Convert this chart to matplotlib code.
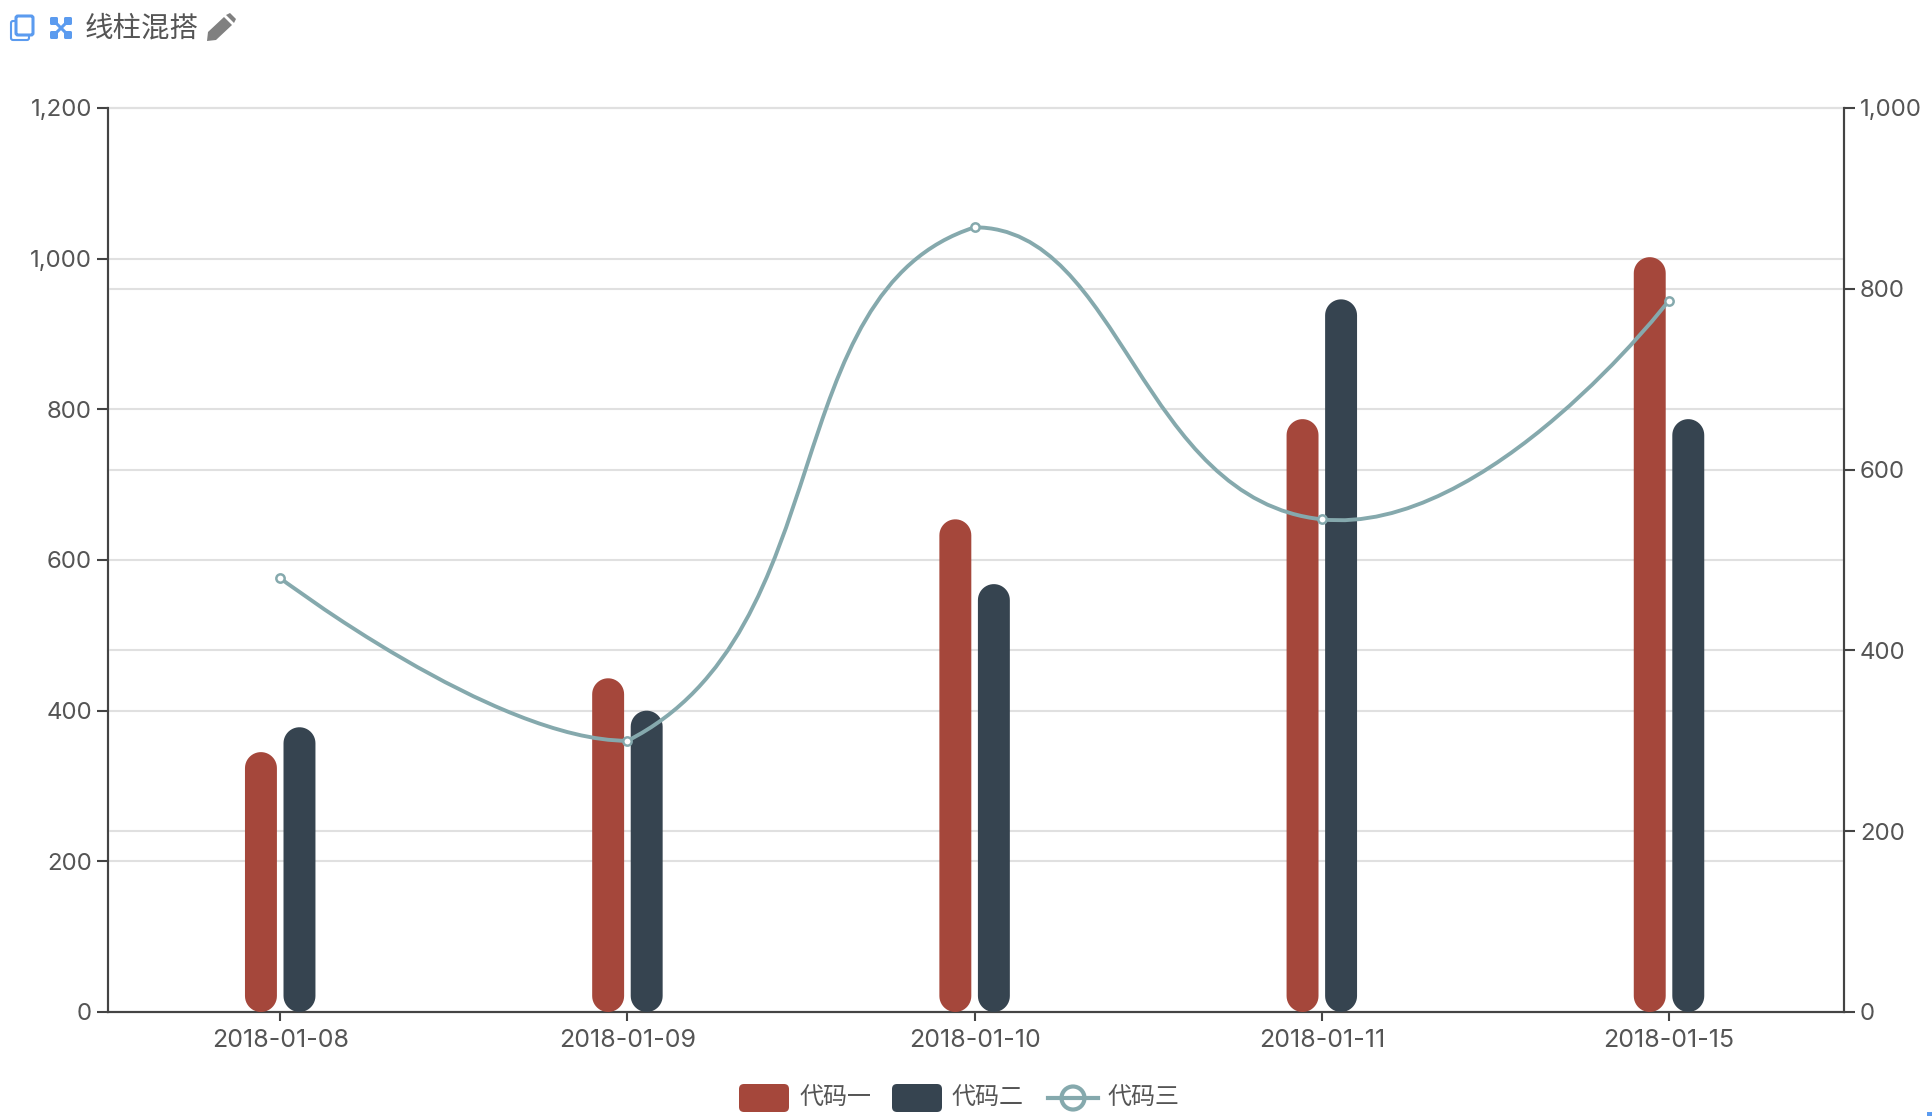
"""Mixed bar and smooth line chart with a secondary axis"""

import matplotlib
matplotlib.use('Agg')
import matplotlib.pyplot as plt
import numpy as np
from matplotlib.patches import Circle, FancyBboxPatch, PathPatch, Polygon, Rectangle
from matplotlib.path import Path
from matplotlib.lines import Line2D
from matplotlib.ticker import FuncFormatter
from matplotlib.transforms import IdentityTransform

plt.rcParams['font.family'] = ['Inter', 'Noto Sans CJK SC', 'DejaVu Sans']

# Data
dates = ['2018-01-08', '2018-01-09', '2018-01-10', '2018-01-11', '2018-01-15']
code_one = [345, 443, 654, 787, 1002]
code_two = [378, 400, 568, 946, 787]
code_three = [480, 300, 868, 545, 787]
names = ['代码一', '代码二', '代码三']
title = '线柱混搭'

RED = '#a5473b'
DARK = '#364450'
TEAL = '#85a9ad'
AXIS = '#444444'
TEXT = '#555555'
GRID = '#e0e0e0'
BLUE = '#5b9bef'

W, H = 1932, 1120
fig = plt.figure(figsize=(W / 100, H / 100), dpi=100, facecolor='white')
ax = fig.add_axes([108 / W, 1 - 1012 / H, (1844 - 108) / W, (1012 - 108) / H])
ax2 = ax.twinx()
ax.set_zorder(1)
ax2.set_zorder(2)
ax2.patch.set_visible(False)

x = np.arange(len(dates))
bar_w = 0.092
off = 0.0555
bars_one = ax.bar(x - off, code_one, bar_w, color='none')
bars_two = ax.bar(x + off, code_two, bar_w, color='none')

ax.set_xlim(-0.496, len(dates) - 0.496)
ax.set_ylim(0, 1200)
ax2.set_ylim(0, 1000)
ax.set_yticks(range(0, 1201, 200))
ax2.set_yticks(range(0, 1001, 200))
ax.set_xticks(x, dates)
comma = FuncFormatter(lambda v, _: f'{int(v):,}')
ax.yaxis.set_major_formatter(comma)
ax2.yaxis.set_major_formatter(comma)

for a in (ax, ax2):
    a.grid(axis='y', color=GRID, lw=1.5, clip_on=False)
    a.set_axisbelow(True)
    a.spines['top'].set_visible(False)
    for side in ('left', 'right', 'bottom'):
        a.spines[side].set_color(AXIS)
        a.spines[side].set_linewidth(1.5)
    a.tick_params(axis='y', length=8, width=1.5, color=AXIS, labelcolor=TEXT, labelsize=17.3, pad=3.5)
ax.tick_params(axis='x', length=6.5, width=1.5, color=AXIS, labelcolor=TEXT, labelsize=18, pad=5.5)
ax2.tick_params(axis='x', length=0)

fig.canvas.draw()


# Rounded bars, sized from the bars the axes placed
def round_bars(bars, color):
    t = np.linspace(0, np.pi, 24)
    for bar in bars:
        box = bar.get_window_extent()
        r = box.width / 2
        cx = (box.x0 + box.x1) / 2
        top = np.column_stack([cx + r * np.cos(t), box.y1 - r + r * np.sin(t)])
        low = np.column_stack([cx - r * np.cos(t), box.y0 + r - r * np.sin(t)])
        # ax2 sits on top, so the bars go there to cover both sets of grid lines
        ax2.add_patch(Polygon(np.vstack([top, low]), closed=True, fc=color, ec='none',
                              transform=IdentityTransform(), zorder=3))


round_bars(bars_one, RED)
round_bars(bars_two, DARK)


# Smooth line, same control point rule as the original chart library
def smooth_path(pts, smooth=0.5):
    lo, hi = pts.min(axis=0), pts.max(axis=0)
    verts = [pts[0]]
    codes = [Path.MOVETO]
    cp_out = pts[0]
    for i in range(1, len(pts)):
        if i < len(pts) - 1:
            v = pts[i + 1] - pts[i - 1]
            d0 = np.hypot(*(pts[i] - pts[i - 1]))
            d1 = np.hypot(*(pts[i + 1] - pts[i]))
            cp_in = np.clip(pts[i] - v * smooth * d0 / (d0 + d1), lo, hi)
            cp_next = np.clip(pts[i] + v * smooth * d1 / (d0 + d1), lo, hi)
        else:
            cp_in = cp_next = pts[i]
        verts += [cp_out, cp_in, pts[i]]
        codes += [Path.CURVE4] * 3
        cp_out = cp_next
    return Path(verts, codes)


line_pts = ax2.transData.transform(np.column_stack([x, code_three]))
ax2.add_patch(PathPatch(smooth_path(line_pts), fc='none', ec=TEAL, lw=2.8,
                        transform=IdentityTransform(), zorder=4))
ax2.plot(x, code_three, ls='none', marker='o', ms=6, mfc='white', mec=TEAL, mew=1.8, zorder=5)


def px_text(px, py, s, **kw):
    fig.text(px / W, 1 - py / H, s, color=TEXT, va='center', **kw)


def px_xy(points):
    return [(a, H - b) for a, b in points]


def px_box(x0, y0, x1, y1, r, **kw):
    fig.add_artist(FancyBboxPatch((x0 + r, H - y1 + r), x1 - x0 - 2 * r, y1 - y0 - 2 * r,
                                  boxstyle=f'round,pad={r},rounding_size={r}',
                                  transform=IdentityTransform(), **kw))


# Legend
px_box(739, 1084, 789, 1112, 5, fc=RED, ec='none')
px_text(799, 1098, names[0], fontsize=17.3)
px_box(892, 1084, 942, 1112, 5, fc=DARK, ec='none')
px_text(952, 1098, names[1], fontsize=17.3)
fig.add_artist(Line2D([1048, 1098], [H - 1098, H - 1098], color=TEAL, lw=3, transform=IdentityTransform()))
fig.add_artist(Circle((1073, H - 1098), 11.5, fc='white', ec=TEAL, lw=3, transform=IdentityTransform()))
px_text(1108, 1098, names[2], fontsize=17.3)

# Toolbox title and icons
px_text(85, 29, title, fontsize=20.5)
px_box(11, 21, 29, 40, 2, fc='white', ec=BLUE, lw=1.5)
px_box(16, 16, 33, 35, 2, fc='white', ec=BLUE, lw=2.2)
fig.add_artist(Line2D([54, 68], [H - 21, H - 35], color=BLUE, lw=2.2, transform=IdentityTransform()))
fig.add_artist(Line2D([54, 68], [H - 35, H - 21], color=BLUE, lw=2.2, transform=IdentityTransform()))
for cx, cy in [(54, 21), (68, 21), (54, 35), (68, 35)]:
    px_box(cx - 4, cy - 4, cx + 4, cy + 4, 1.5, fc=BLUE, ec='none')
fig.add_artist(Polygon(px_xy([(208, 32), (224, 17), (232, 25), (216, 40), (207, 41)]),
                       fc='#808080', ec='none', transform=IdentityTransform()))
fig.add_artist(Polygon(px_xy([(226, 15), (230, 13), (236, 19), (234, 23)]),
                       fc='#808080', ec='none', transform=IdentityTransform()))

# Stray blue mark in the lower right corner of the page
fig.add_artist(Rectangle((1927, H - 1116), 5, 4, fc=BLUE, ec='none', transform=IdentityTransform()))

fig.savefig('out.png', dpi=100)
